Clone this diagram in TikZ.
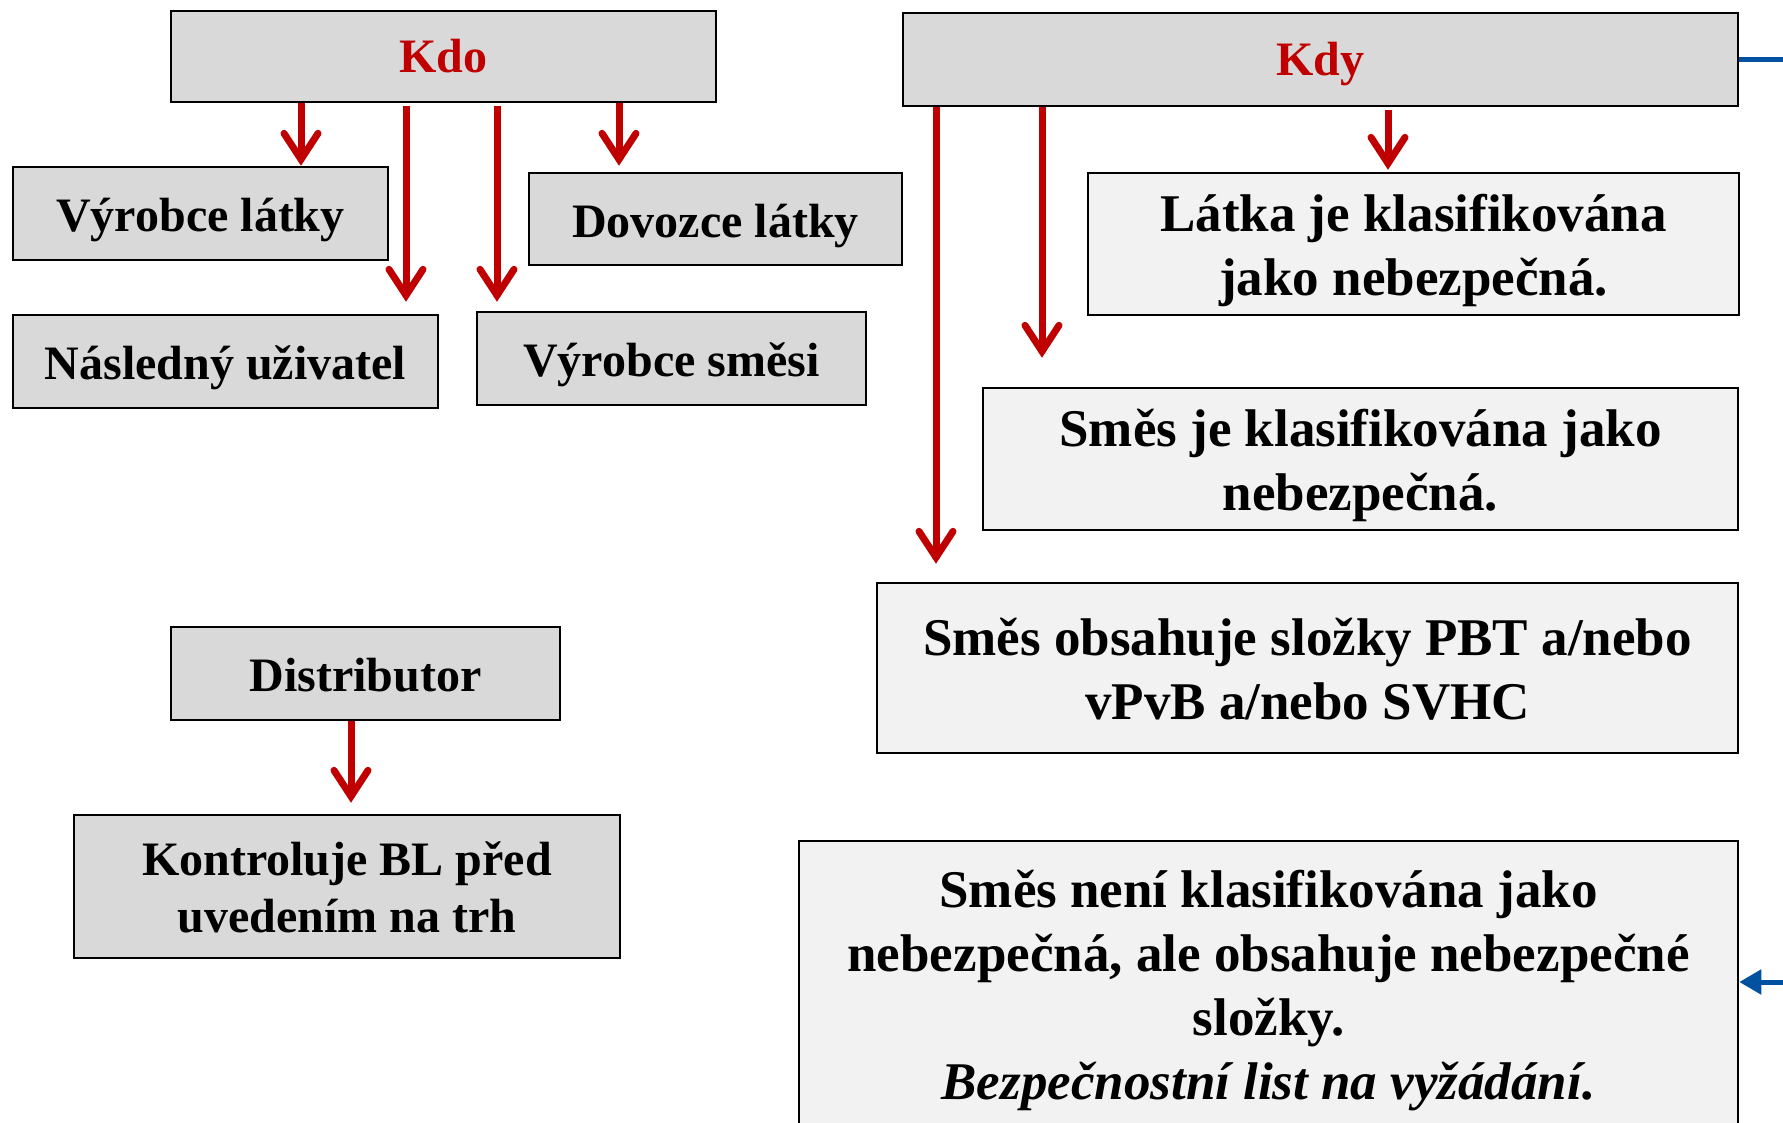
\documentclass[tikz,border=0pt]{standalone}
\usepackage{fontspec}
\setmainfont{Liberation Serif}
\usetikzlibrary{arrows.meta}
\definecolor{boxgray}{HTML}{D9D9D9}
\definecolor{boxlight}{HTML}{F2F2F2}
\definecolor{darkred}{HTML}{C00000}
\definecolor{linkblue}{HTML}{0052A0}
\newcommand\TopS[1]{\rule{0pt}{#1}}
\newcommand\BotS[1]{\rule[-#1]{0pt}{#1}}
\tikzset{
  box/.style={draw=black, line width=2.5pt, fill=boxgray, inner sep=0pt, align=center,
    font=\fontsize{48}{57}\selectfont\bfseries},
  lbox/.style={box, fill=boxlight, font=\fontsize{53}{64}\selectfont\bfseries},
  oneline/.style={text height=36pt, text depth=0pt},
  headline/.style={text height=32pt, text depth=0pt, text=darkred},
  redarrow/.style={draw=darkred, line width=7pt,
    -{Straight Barb[length=26pt,width=34pt,line cap=round,line join=miter]}},
  bluearrow/.style={draw=linkblue, line width=5pt, -{Triangle[length=22pt,width=24pt]}},
  blueline/.style={draw=linkblue, line width=5pt},
}
\begin{document}
\begin{tikzpicture}[x=1pt,y=-1pt]
\useasboundingbox (0,0) rectangle (1783,1122);
\clip (0,0) rectangle (1783,1122);
\fill[white] (0,0) rectangle (1783,1122);

% left side
\node[box, headline, minimum width=545pt, minimum height=91pt] (kdo) at (443.5,56.5) {Kdo};
\node[box, oneline, minimum width=375pt, minimum height=93pt] (vl) at (200.5,213.5) {Výrobce látky};
\node[box, oneline, minimum width=373pt, minimum height=92pt] (dl) at (715.5,219) {Dovozce látky};
\node[box, oneline, minimum width=425pt, minimum height=93pt] (nu) at (225.5,361.5) {Následný uživatel};
\node[box, oneline, minimum width=389pt, minimum height=93pt] (vs) at (671.5,358.5) {Výrobce směsi};
\node[box, oneline, minimum width=389pt, minimum height=93pt] (distr) at (365.5,673.5) {Distributor};
\node[box, minimum width=546pt, minimum height=143pt] (kontr) at (347,886.5)
  {\TopS{48pt}Kontroluje BL před\\uvedením na trh\BotS{14pt}};

% right side
\node[box, headline, minimum width=835pt, minimum height=93pt] (kdy) at (1320.5,59.5) {Kdy};
\node[lbox, minimum width=651pt, minimum height=142pt] (latka) at (1413.5,244)
  {\TopS{55pt}Látka je klasifikována\\jako nebezpečná.\BotS{16pt}};
\node[lbox, minimum width=755pt, minimum height=142pt] (smes1) at (1360.5,459)
  {\TopS{54pt}Směs je klasifikována jako\\nebezpečná.\BotS{16pt}};
\node[lbox, minimum width=861pt, minimum height=170pt] (smes2) at (1307.5,668)
  {\TopS{54pt}Směs obsahuje složky PBT a/nebo\\vPvB a/nebo SVHC\BotS{16pt}};
\node[lbox, minimum width=939pt, minimum height=300pt] (smes3) at (1268.5,991)
  {\TopS{44pt}Směs není klasifikována jako\\nebezpečná, ale obsahuje nebezpečné\\složky.\\\textit{Bezpečnostní list na vyžádání.}\BotS{20pt}};

% arrow columns
\coordinate (c1) at (301,0);
\coordinate (c2) at (406,0);
\coordinate (c3) at (497,0);
\coordinate (c4) at (619,0);
\coordinate (c5) at (936,0);
\coordinate (c6) at (1042,0);
\coordinate (c7) at (1388,0);
\coordinate (c8) at (351,0);

\draw[redarrow] (kdo.south -| c1) -- (vl.north -| c1);
\draw[redarrow, shorten <=3pt, shorten >=12pt] (kdo.south -| c2) -- (nu.north -| c2);
\draw[redarrow, shorten <=3pt, shorten >=9pt] (kdo.south -| c3) -- (vs.north -| c3);
\draw[redarrow, shorten >=6pt] (kdo.south -| c4) -- (dl.north -| c4);

\draw[redarrow, shorten >=18pt] (kdy.south -| c5) -- (smes2.north -| c5);
\draw[redarrow, shorten >=29pt] (kdy.south -| c6) -- (smes1.north -| c6);
\draw[redarrow, shorten <=3pt, shorten >=2pt] (kdy.south -| c7) -- (latka.north -| c7);

\draw[redarrow, shorten >=11pt] (distr.south -| c8) -- (kontr.north -| c8);

% blue connectors
\coordinate (bt) at (1800,59);
\coordinate (bb) at (1800,982);
\draw[blueline] (kdy.east |- bt) -- (bt);
\draw[bluearrow] (bb) -- (smes3.east |- bb);
\end{tikzpicture}
\end{document}
